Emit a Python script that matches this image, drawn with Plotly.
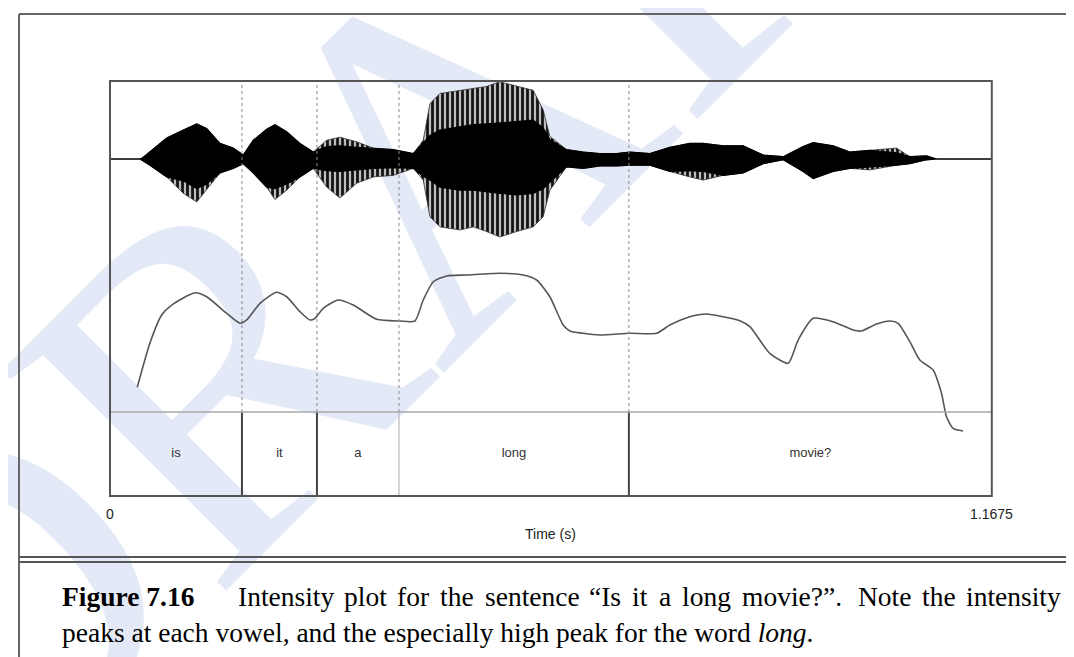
import plotly.graph_objects as go

W, H = 1074, 657
PAGE_OFF = 8  # default body margin of the written page

# ---------------- data ----------------
duration = 1.1675
words = ["is", "it", "a", "long", "movie?"]
word_bounds = [0.0, 0.1747, 0.2740, 0.3826, 0.6870, 1.1675]

# waveform envelope (normalised amplitude)
wave_t = [0.0, 0.0397, 0.0437, 0.0529, 0.0751, 0.0970, 0.1148, 0.1280, 0.1456, 0.1632,
          0.1764, 0.1897, 0.2074, 0.2184, 0.2339, 0.2515, 0.2691, 0.2868, 0.3044, 0.3266,
          0.3485, 0.3750, 0.4015, 0.4147, 0.4236, 0.4368, 0.4633, 0.4809, 0.4986, 0.5162,
          0.5383, 0.5603, 0.5735, 0.5824, 0.6045, 0.6265, 0.6486, 0.6707, 0.6883, 0.7148,
          0.7413, 0.7677, 0.7853, 0.8118, 0.8383, 0.8648, 0.8913, 0.9177, 0.9310, 0.9574,
          0.9795, 1.0060, 1.0413, 1.0590, 1.0811, 1.0943, 1.1675]
wave_outer_top = [0.0, 0.0, 0.02, 0.09, 0.27, 0.37, 0.45, 0.39, 0.20, 0.14,
                  0.05, 0.24, 0.38, 0.44, 0.35, 0.20, 0.09, 0.24, 0.28, 0.22,
                  0.14, 0.12, 0.07, 0.24, 0.71, 0.84, 0.88, 0.91, 0.93, 0.99,
                  0.93, 0.88, 0.63, 0.29, 0.12, 0.09, 0.07, 0.07, 0.09, 0.07,
                  0.15, 0.20, 0.20, 0.17, 0.17, 0.05, 0.03, 0.16, 0.21, 0.17,
                  0.09, 0.11, 0.14, 0.03, 0.04, 0.0, 0.0]
wave_outer_bottom = [0.0, 0.0, -0.02, -0.08, -0.23, -0.44, -0.55, -0.40, -0.18, -0.12,
                     -0.06, -0.18, -0.36, -0.52, -0.40, -0.23, -0.12, -0.36, -0.50, -0.31,
                     -0.23, -0.21, -0.12, -0.27, -0.74, -0.87, -0.91, -0.87, -0.93, -1.00,
                     -0.93, -0.87, -0.74, -0.40, -0.10, -0.12, -0.09, -0.09, -0.08, -0.08,
                     -0.16, -0.23, -0.27, -0.21, -0.18, -0.06, -0.01, -0.16, -0.25, -0.16,
                     -0.12, -0.14, -0.08, -0.06, -0.01, 0.0, 0.0]
wave_core_top = [0.0, 0.0, 0.02, 0.09, 0.27, 0.37, 0.45, 0.39, 0.20, 0.14,
                 0.05, 0.24, 0.38, 0.44, 0.35, 0.20, 0.09, 0.16, 0.17, 0.15,
                 0.14, 0.12, 0.07, 0.20, 0.30, 0.37, 0.41, 0.44, 0.45, 0.46,
                 0.48, 0.50, 0.40, 0.25, 0.12, 0.09, 0.07, 0.07, 0.09, 0.07,
                 0.15, 0.20, 0.20, 0.17, 0.17, 0.05, 0.03, 0.16, 0.21, 0.17,
                 0.09, 0.11, 0.08, 0.03, 0.04, 0.0, 0.0]
wave_core_bottom = [0.0, 0.0, -0.02, -0.08, -0.23, -0.28, -0.38, -0.32, -0.18, -0.12,
                    -0.06, -0.18, -0.36, -0.38, -0.32, -0.23, -0.12, -0.15, -0.16, -0.14,
                    -0.12, -0.11, -0.12, -0.22, -0.27, -0.36, -0.40, -0.40, -0.42, -0.44,
                    -0.46, -0.44, -0.38, -0.30, -0.10, -0.12, -0.09, -0.09, -0.08, -0.08,
                    -0.16, -0.15, -0.16, -0.21, -0.18, -0.06, -0.01, -0.16, -0.25, -0.16,
                    -0.12, -0.10, -0.08, -0.06, -0.01, 0.0, 0.0]

# intensity contour (dB)
int_t = [0.0361, 0.0529, 0.0684, 0.0817, 0.1125, 0.1280, 0.1545, 0.1721, 0.1810, 0.1986,
         0.2207, 0.2339, 0.2515, 0.2647, 0.2714, 0.2823, 0.3022, 0.3221, 0.3530, 0.3839,
         0.4037, 0.4147, 0.4280, 0.4457, 0.4722, 0.5162, 0.5471, 0.5648, 0.5824, 0.6000,
         0.6089, 0.6265, 0.6486, 0.6883, 0.7236, 0.7413, 0.7677, 0.7899, 0.8118, 0.8339,
         0.8472, 0.8736, 0.8979, 0.9111, 0.9310, 0.9574, 0.9839, 0.9950, 1.0149, 1.0325,
         1.0435, 1.0590, 1.0722, 1.0898, 1.1009, 1.1075, 1.1163, 1.1295]
int_db = [45.72, 52.12, 56.17, 57.61, 59.39, 58.81, 56.41, 54.97, 55.45, 57.86,
          59.45, 58.81, 56.65, 55.45, 55.69, 57.14, 58.34, 57.61, 55.55, 55.30,
          55.30, 58.34, 60.98, 61.81, 61.95, 62.20, 61.95, 61.23, 58.81, 54.72,
          53.86, 53.52, 53.28, 53.52, 53.52, 54.72, 55.92, 56.31, 55.92, 55.34,
          54.48, 50.63, 49.19, 52.55, 55.69, 55.20, 54.00, 53.86, 54.87, 55.30,
          54.97, 52.31, 49.66, 48.22, 44.85, 41.47, 39.79, 39.40]

tick_labels = ["0", "1.1675"]
x_title = "Time (s)"
caption_label = "Figure 7.16"
caption_line1 = ["Intensity", "plot", "for", "the", "sentence", "\u201cIs", "it", "a", "long",
                 "movie?\u201d.", "Note", "the", "intensity"]
caption_line2 = "peaks at each vowel, and the especially high peak for the word <i>long</i>."
watermark = "DRAFT"


# ---------------- helpers (reference pixels -> paper) ----------------
def px(x):
    return (x - PAGE_OFF) / W


def py(y):
    return 1 - (y - PAGE_OFF) / H


BOX_L, BOX_R, BOX_T, TIER_T, BOX_B = 110, 991.8, 81, 412, 496

fig = go.Figure()

# waveform: outer striated envelope then dense core
fig.add_trace(go.Scatter(
    x=wave_t + wave_t[::-1], y=wave_outer_top + wave_outer_bottom[::-1],
    fill="toself", mode="lines",
    fillpattern=dict(shape="|", size=5, solidity=0.55, fgcolor="#111111",
                     bgcolor="#bdbdbd", fillmode="replace"),
    line=dict(color="#333333", width=0.8), xaxis="x", yaxis="y",
    hoverinfo="skip", showlegend=False))
fig.add_trace(go.Scatter(
    x=wave_t + wave_t[::-1], y=wave_core_top + wave_core_bottom[::-1],
    fill="toself", fillcolor="#000000", mode="lines",
    line=dict(color="#000000", width=1.2), xaxis="x", yaxis="y",
    hoverinfo="skip", showlegend=False))

# intensity curve
fig.add_trace(go.Scatter(
    x=int_t, y=int_db, mode="lines",
    line=dict(color="#555555", width=1.6, shape="spline", smoothing=0.6),
    xaxis="x", yaxis="y2", hoverinfo="skip", showlegend=False))

# word tier labels
mids = [(word_bounds[i] + word_bounds[i + 1]) / 2 for i in range(len(words))]
fig.add_trace(go.Scatter(
    x=mids, y=[0.5] * len(words), text=words, mode="text",
    textfont=dict(family="Liberation Sans, Arial", size=13, color="#333333"),
    xaxis="x", yaxis="y3", hoverinfo="skip", showlegend=False))

shapes = []
# watermark (below everything)
wx, wy = 374, 140
shapes.append(dict(
    type="rect", xref="paper", yref="paper",
    x0=px(wx) - 0.05, x1=px(wx) + 0.05, y0=py(wy) - 0.05, y1=py(wy) + 0.05,
    line=dict(width=0), fillcolor="rgba(0,0,0,0)", layer="below",
    label=dict(text=watermark, textangle=-45, textposition="middle center",
               font=dict(family="Liberation Serif", size=480, color="#e3e9f7"))))

# outer frame
shapes.append(dict(type="line", xref="paper", yref="paper", x0=px(19), x1=1, y0=py(14), y1=py(14),
                   line=dict(color="#666666", width=2)))
shapes.append(dict(type="line", xref="paper", yref="paper", x0=px(19), x1=px(19), y0=py(14), y1=0,
                   line=dict(color="#666666", width=2)))
for yy in (557, 562):
    shapes.append(dict(type="line", xref="paper", yref="paper", x0=px(19), x1=1, y0=py(yy), y1=py(yy),
                       line=dict(color="#555555", width=1.8)))

# boundaries
strong = [True, True, False, True]
for b, s in zip(word_bounds[1:-1], strong):
    shapes.append(dict(type="line", xref="x", yref="paper", x0=b, x1=b, y0=py(TIER_T), y1=py(BOX_T),
                       line=dict(color="#8a8a8a", width=1, dash="dot")))
    shapes.append(dict(type="line", xref="x", yref="paper", x0=b, x1=b, y0=py(BOX_B), y1=py(TIER_T),
                       line=dict(color="#444444" if s else "#aaaaaa", width=2 if s else 1)))

# tier separator and box
shapes.append(dict(type="line", xref="paper", yref="paper", x0=px(BOX_L), x1=px(BOX_R),
                   y0=py(TIER_T), y1=py(TIER_T), line=dict(color="#a8a8a8", width=1.5)))
shapes.append(dict(type="rect", xref="paper", yref="paper", x0=px(BOX_L), x1=px(BOX_R),
                   y0=py(BOX_B), y1=py(BOX_T), line=dict(color="#555555", width=2),
                   fillcolor="rgba(0,0,0,0)"))

annotations = []
for xv, lab in zip([0, duration], tick_labels):
    annotations.append(dict(x=xv, xref="x", y=py(514), yref="paper", text=lab, showarrow=False,
                            xanchor="center", yanchor="middle",
                            font=dict(family="Liberation Sans, Arial", size=14, color="#222222")))
annotations.append(dict(x=duration / 2, xref="x", y=py(534), yref="paper", text=x_title, showarrow=False,
                        xanchor="center", yanchor="middle",
                        font=dict(family="Liberation Sans, Arial", size=14, color="#222222")))

cap_font = dict(family="Liberation Serif, Times New Roman", size=27.5, color="#000000")
annotations.append(dict(x=px(60), y=py(596), xref="paper", yref="paper",
                        text="<b>" + caption_label + "</b>",
                        showarrow=False, xanchor="left", yanchor="middle", font=cap_font))
# justified first line: each word placed where it sits in the reference
line1_x = [236, 342, 395, 438, 483, 587, 630, 657, 680, 740, 856, 920, 964]
for wd, xx in zip(caption_line1, line1_x):
    annotations.append(dict(x=px(xx), y=py(596), xref="paper", yref="paper", text=wd,
                            showarrow=False, xanchor="left", yanchor="middle", font=cap_font))
annotations.append(dict(x=px(60), y=py(632), xref="paper", yref="paper", text=caption_line2,
                        showarrow=False, xanchor="left", yanchor="middle", font=cap_font))

hidden = dict(visible=False, showgrid=False, zeroline=False, fixedrange=True)
fig.update_layout(
    width=W, height=H,
    margin=dict(l=0, r=0, t=0, b=0),
    paper_bgcolor="white", plot_bgcolor="rgba(0,0,0,0)",
    showlegend=False,
    xaxis=dict(domain=[px(BOX_L), px(BOX_R)], range=[0, duration], anchor="y3", **hidden),
    yaxis=dict(domain=[py(TIER_T), py(BOX_T)], range=[-(TIER_T - 159) / 78, 1.0], anchor="x", **hidden),
    yaxis2=dict(domain=[py(BOX_B), py(BOX_T)], range=[30, 90], anchor="x", **hidden),
    yaxis3=dict(domain=[py(BOX_B), py(TIER_T)], range=[0, 1], anchor="x", **hidden),
    shapes=shapes,
    annotations=annotations,
)

fig.write_html("out.html")
